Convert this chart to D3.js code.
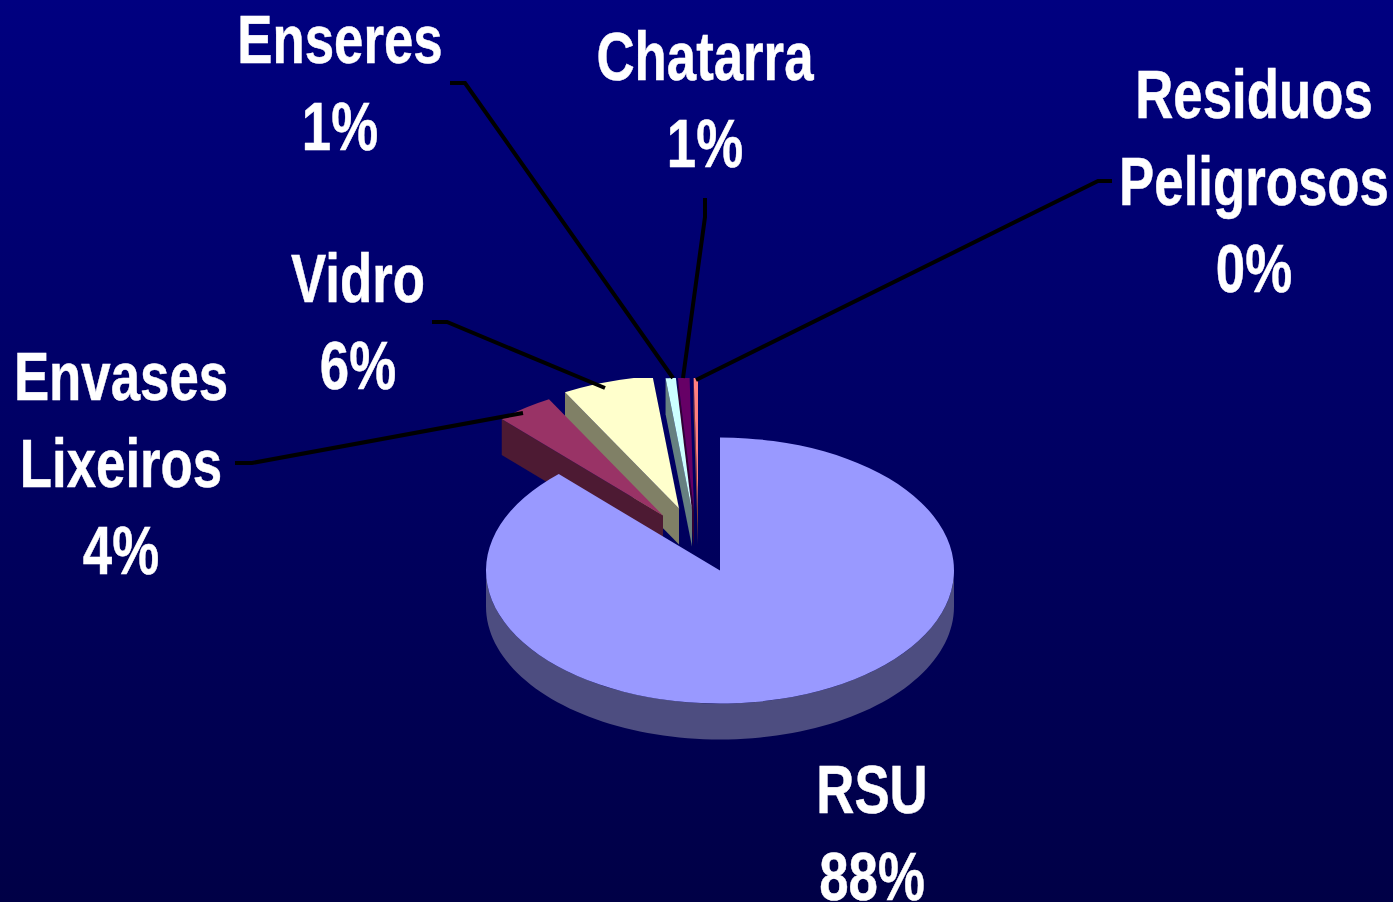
<!DOCTYPE html>
<html>
<head>
<meta charset="utf-8">
<script src="https://cdnjs.cloudflare.com/ajax/libs/d3/7.8.5/d3.min.js"></script>
<style>
  html, body { margin: 0; padding: 0; background: #000060; overflow: hidden; }
  svg { display: block; }
  text { font-family: "Liberation Sans", Arial, sans-serif; font-weight: bold; fill: #fff; stroke: #fff; stroke-width: 0.5px; }
</style>
</head>
<body>
<div id="pie-chart"></div>
<script>
/* 3D exploded pie of waste types */

const categories = ["RSU", "Envases Lixeiros", "Vidro", "Enseres", "Chatarra", "Residuos Peligrosos"];
const shares = [87.9, 4.0, 6.3, 0.7, 0.8, 0.3];
const topColors = ["#9999ff", "#993366", "#ffffcc", "#ccffff", "#660066", "#ff8080"];
const wallColors = ["#4d4d80", "#4d1a33", "#808066", "#668080", "#330033", "#804040"];

const width = 1393;
const height = 902;

const center = { x: 720, y: 570.5 };
const rx = 234;
const ry = 133;
const depth = 36;
const clipTop = 378; // the exploded slices get cut flat here, same as the original

// pull of each slice away from the center, px on screen
const pullX = [0, -57, -41, -28, -26, -22];
const pullY = [0, -55, -62, -60, -60, -62];

// label anchors: center x and first baseline
const labelX = [872, 121, 358, 340, 705, 1254];
const labelY = [813, 400, 302, 63, 80, 118];
const lineGap = 87;

// leader lines: start at the label, bend, then run to the slice
const leaders = [
    null,
    [[235, 463], [252, 463], [523, 413]],
    [[432, 322], [447, 322], [605, 388]],
    [[450, 83], [465, 83], [673, 378]],
    [[705, 198], [705, 217], [683, 378]],
    [[1112, 181], [1098, 181], [696, 380]]
];

const svg = d3.select("#pie-chart")
    .append("svg")
    .attr("width", width)
    .attr("height", height)
    .attr("viewBox", [0, 0, width, height]);

const defs = svg.append("defs");

const grad = defs.append("linearGradient")
    .attr("id", "bg")
    .attr("x1", 0).attr("y1", 0)
    .attr("x2", 0).attr("y2", 1);
grad.append("stop").attr("offset", "0%").attr("stop-color", "#000080");
grad.append("stop").attr("offset", "100%").attr("stop-color", "#000046");

defs.append("clipPath")
    .attr("id", "plot")
    .append("rect")
    .attr("x", 0)
    .attr("y", clipTop)
    .attr("width", width)
    .attr("height", height - clipTop);

svg.append("rect")
    .attr("width", width)
    .attr("height", height)
    .attr("fill", "url(#bg)");

const pie = d3.pie().sort(null).value(d => d)(shares);

const arc = d3.arc()
    .innerRadius(0)
    .outerRadius(rx);

// point on the rim of a slice, for an angle measured clockwise from the top
const rimX = a => Math.sin(a) * rx;
const rimY = a => -Math.cos(a) * ry;

const line = d3.line();

const chart = svg.append("g").attr("clip-path", "url(#plot)");

// draw right to left so the left hand walls sit on top, RSU last
const order = d3.range(1, shares.length).reverse().concat([0]);

order.forEach(i => {
    const slice = pie[i];
    const cx = center.x + pullX[i];
    const cy = center.y + pullY[i];
    const g = chart.append("g").attr("class", "slice");

    if (i === 0) {
        // outer wall, only the front half is visible
        const front = d3.range(Math.PI / 2, Math.PI * 1.5 + 0.001, Math.PI / 90);
        const pts = front.map(a => [cx + rimX(a), cy + rimY(a)])
            .concat(front.slice().reverse().map(a => [cx + rimX(a), cy + rimY(a) + depth]));
        g.append("path")
            .attr("d", line(pts) + "Z")
            .attr("fill", wallColors[i]);
    } else {
        // cut face on the left edge of the slice
        const a = slice.startAngle;
        const pts = [
            [cx, cy],
            [cx + rimX(a), cy + rimY(a)],
            [cx + rimX(a), cy + rimY(a) + depth],
            [cx, cy + depth]
        ];
        g.append("path")
            .attr("d", line(pts) + "Z")
            .attr("fill", wallColors[i]);
    }

    g.append("path")
        .attr("d", arc(slice))
        .attr("transform", `translate(${cx},${cy}) scale(1,${ry / rx})`)
        .attr("fill", topColors[i]);
});

svg.append("g")
    .selectAll("path")
    .data(leaders.filter(d => d))
    .join("path")
    .attr("d", d => line(d))
    .attr("fill", "none")
    .attr("stroke", "#000")
    .attr("stroke-width", 4);

const labels = svg.append("g")
    .selectAll("g")
    .data(categories)
    .join("g")
    .attr("transform", (d, i) => `translate(${labelX[i]},${labelY[i]}) scale(0.765,1)`);

labels.each(function (name, i) {
    const lines = name.split(" ").concat([Math.round(shares[i]) + "%"]);
    d3.select(this).selectAll("text")
        .data(lines)
        .join("text")
        .attr("y", (d, k) => k * lineGap)
        .attr("text-anchor", "middle")
        .style("font-size", "69px")
        .text(d => d);
});
</script>
</body>
</html>
